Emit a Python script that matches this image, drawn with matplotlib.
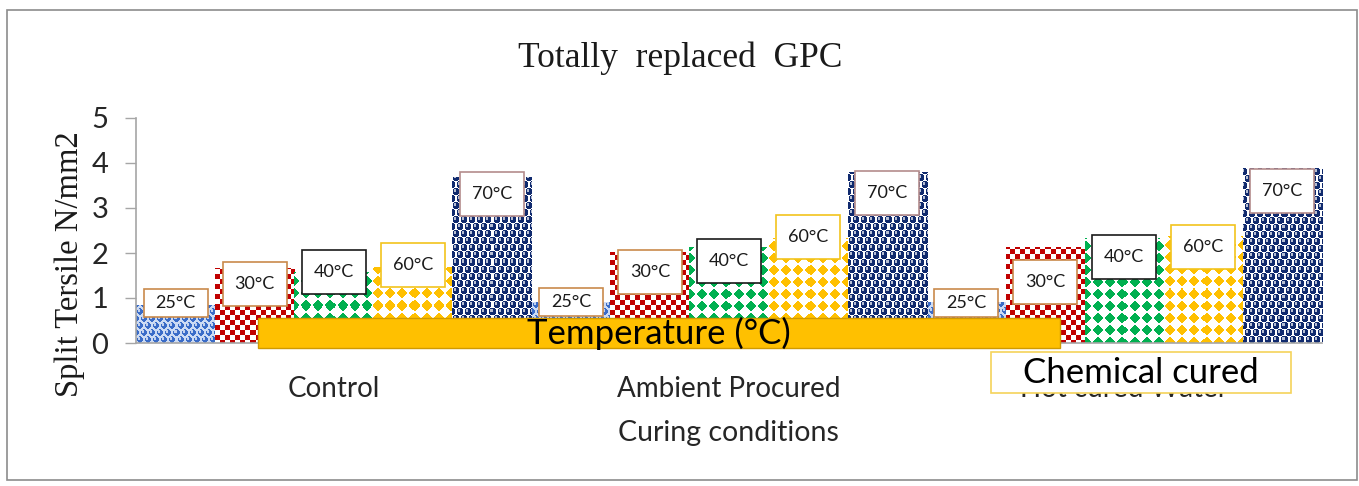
import numpy as np
import matplotlib
matplotlib.use("Agg")
import matplotlib.pyplot as plt
import matplotlib.colors as mcolors
from matplotlib.patches import Rectangle

W_PX, H_PX = 1359, 486

# --- data ---
groups = ["Control", "Ambient Procured", "Hot cured Water"]
temps = ["25°C", "30°C", "40°C", "60°C", "70°C"]
control = [0.84, 1.67, 1.58, 1.69, 3.69]
ambient = [0.91, 2.02, 2.13, 2.33, 3.80]
hot_cured = [0.92, 2.14, 2.33, 2.38, 3.88]

# where the hand-placed data-label boxes sit (y, in data units)
control_label_y = [0.89, 1.31, 1.57, 1.74, 3.31]
ambient_label_y = [0.92, 1.57, 1.82, 2.36, 3.34]
hot_cured_label_y = [0.89, 1.36, 1.91, 2.13, 3.38]

# pattern kind, fill colour, label box edge colour
series_style = {
    "25°C": ("sphere_light", "#3a6cc8", "#c98a4b"),
    "30°C": ("checker", "#c00000", "#c98a4b"),
    "40°C": ("diamond", "#00b050", "#1a1a1a"),
    "60°C": ("diamond", "#ffc000", "#f2c31c"),
    "70°C": ("sphere_dark", "#102a6e", "#b48c8c"),
}

SANS = ["Lato", "DejaVu Sans"]
SERIF = ["Liberation Serif", "DejaVu Serif"]


def texture(kind, color, xx, yy):
    """RGB pattern on the absolute pixel grid xx, yy."""
    rgb = np.array(mcolors.to_rgb(color))
    img = np.ones(np.broadcast(xx, yy).shape + (3,))
    if kind == "checker":
        s = 5
        mask = ((np.floor(xx / s) + np.floor(yy / s)) % 2) == 0
        img[mask] = rgb
    elif kind == "diamond":
        p = 12
        dx = (xx % p) - p / 2
        dy = (yy % p) - p / 2
        mask = (np.abs(dx) + np.abs(dy)) <= 0.43 * p
        img[mask] = rgb
    else:
        p, rowh = 8, 7
        r = 3.4 if kind == "sphere_dark" else 3.2
        row = np.floor(yy / rowh)
        off = (row % 2) * p / 2
        cx = np.floor((xx - off) / p) * p + off + p / 2
        cy = row * rowh + rowh / 2
        d = np.hypot(xx - cx, yy - cy)
        hd = np.hypot(xx - (cx - 1.0), yy - (cy - 1.0))
        inside = d <= r
        body = np.broadcast_to(rgb, img.shape).copy()
        hl = (hd < 1.3)[..., None]
        body = np.where(hl, rgb + (1 - rgb) * 0.7, body)
        img = np.where(inside[..., None], body, img)
        if kind == "sphere_light":
            img = np.where(inside[..., None], img, np.array([0.80, 0.86, 0.96]))
    return img


def px_box(x0, y0, x1, y1):
    """figure-fraction rect from top-left pixel corners"""
    return (x0 / W_PX, 1 - y1 / H_PX), (x1 - x0) / W_PX, (y1 - y0) / H_PX


fig = plt.figure(figsize=(W_PX / 100, H_PX / 100), dpi=100)
ax = fig.add_axes([136 / W_PX, 1 - 343 / H_PX, 1186 / W_PX, 225 / H_PX])
ax.set_xlim(0, 15)
ax.set_ylim(0, 5)
ax.set_autoscale_on(False)

values = [control, ambient, hot_cured]
label_ys = [control_label_y, ambient_label_y, hot_cured_label_y]
n = len(temps)

for k, t in enumerate(temps):
    kind, color, edge = series_style[t]
    xs = [g * n + k for g in range(len(groups))]
    heights = [v[k] for v in values]
    bars = ax.bar(xs, heights, width=1.0, align="edge", color="white",
                  edgecolor="none", zorder=2)
    for bar, g in zip(bars, range(len(groups))):
        x0, y0 = bar.get_xy()
        bw, bh = bar.get_width(), bar.get_height()
        (px0, py0), (px1, py1) = ax.transData.transform([(x0, y0), (x0 + bw, y0 + bh)])
        wpx = max(int(round(px1 - px0)), 1)
        hpx = max(int(round(py1 - py0)), 1)
        xx = np.arange(wpx)[None, :] + round(px0) + 0.5
        yy = np.arange(hpx)[:, None] + round(H_PX - py1) + 0.5
        img = texture(kind, color, xx, yy)
        im = ax.imshow(img, extent=(x0, x0 + bw, y0, y0 + bh), origin="upper",
                       interpolation="nearest", aspect="auto", zorder=2.1)
        im.set_clip_path(bar)

        # data label box
        xc = x0 + bw / 2
        ly = label_ys[g][k]
        bh_lab = 0.62 if k == 0 else 0.98
        ax.add_patch(Rectangle((xc - 0.405, ly - bh_lab / 2), 0.81, bh_lab,
                               facecolor="white", edgecolor=edge, lw=1.2,
                               zorder=5))
        ax.text(xc, ly, t, ha="center", va="center", fontsize=13,
                family=SANS, color="#1a1a1a", zorder=6)

ax.set_yticks(range(0, 6))
ax.tick_params(axis="y", length=8, width=1, color="#a6a6a6", pad=12,
               labelsize=21, labelcolor="#262626")
for lab in ax.get_yticklabels():
    lab.set_family(SANS)
ax.set_xticks([g * n + n / 2 for g in range(len(groups))])
ax.set_xticklabels(groups, fontsize=20, family=SANS, color="#262626")
ax.tick_params(axis="x", length=0, pad=24)
for s in ("top", "right"):
    ax.spines[s].set_visible(False)
for s in ("left", "bottom"):
    ax.spines[s].set_color("#a6a6a6")
    ax.spines[s].set_linewidth(1.2)

# titles
fig.text(680 / W_PX, 1 - 58 / H_PX, "Totally  replaced  GPC", ha="center",
         va="center", fontsize=25.5, family=SERIF, color="#1a1a1a")
fig.text(70 / W_PX, 1 - 264 / H_PX, "Split Tersile N/mm2", ha="center",
         va="center", rotation=90, fontsize=23.5, family=SERIF, color="#1a1a1a")
fig.text(728 / W_PX, 1 - 433 / H_PX, "Curing conditions", ha="center",
         va="center", fontsize=20.5, family=SANS, color="#262626")

# overlay callouts
xy, w, h = px_box(258, 318, 1060, 348)
fig.add_artist(Rectangle(xy, w, h, transform=fig.transFigure,
                         facecolor="#ffc000", edgecolor="#d09a00", lw=1, zorder=10))
fig.text(659 / W_PX, 1 - 333 / H_PX, "Temperature (°C)", ha="center",
         va="center", fontsize=25, family=SANS, color="black", zorder=11)

xy, w, h = px_box(991, 352, 1291, 393)
fig.add_artist(Rectangle(xy, w, h, transform=fig.transFigure,
                         facecolor="white", edgecolor="#f5d35a", lw=1.2, zorder=10))
fig.text(1141 / W_PX, 1 - 373 / H_PX, "Chemical cured", ha="center",
         va="center", fontsize=25, family=SANS, color="black", zorder=11)

# picture frame
xy, w, h = px_box(7, 10, 1357, 480)
fig.add_artist(Rectangle(xy, w, h, transform=fig.transFigure,
                         fill=False, edgecolor="#8c8c8c", lw=1.2, zorder=12))

fig.savefig("out.png", dpi=100)
